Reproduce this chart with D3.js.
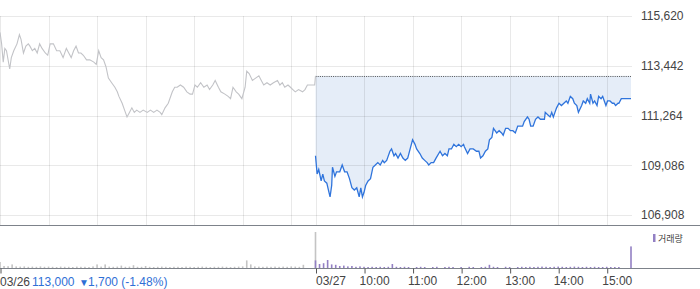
<!DOCTYPE html>
<html>
<head>
<meta charset="utf-8">
<script src="https://cdn.jsdelivr.net/npm/d3@7"></script>
<style>
  body { margin: 0; background: #fff; }
  text { font-family: "Liberation Sans", Arial, "Noto Sans CJK KR", sans-serif; }
</style>
</head>
<body>
<svg id="chart" width="700" height="289"></svg>
<script>
// 03/26 (previous day) intraday prices
const d1Time = ["09:00","09:02","09:04","09:06","09:08","09:12","09:14","09:17","09:21","09:24","09:26","09:29","09:32","09:35","09:37","09:40","09:43","09:46","09:49","09:52","09:56","09:59",
  "10:02","10:06","10:10","10:14","10:18","10:22","10:25","10:28","10:31","10:34","10:37","10:40","10:43","10:47","10:51","10:56","10:59",
  "11:02","11:05","11:08","11:11","11:14","11:18","11:22","11:25","11:27","11:31","11:34","11:37","11:40","11:43","11:46","11:49","11:53","11:57",
  "12:02","12:06","12:10","12:14","12:18","12:20","12:24","12:28","12:33","12:36","12:39","12:43","12:47","12:51","12:55","12:58",
  "13:01","13:04","13:08","13:12","13:16","13:19","13:23","13:26","13:30","13:33","13:38","13:42","13:45","13:48","13:52","13:55","13:59",
  "14:03","14:05","14:08","14:12","14:16","14:20","14:23","14:26","14:30","14:34","14:38","14:43","14:46","14:49","14:52","14:56","14:59",
  "15:02","15:05","15:09","15:14","15:17","15:20","15:29","15:30"];
const d1Price = [114900,114400,113600,114200,114100,113300,113800,114100,114400,114800,114600,114000,114300,114400,114300,114100,114200,114000,114400,114200,114000,113900,
  114400,114400,114100,114100,113800,114200,114000,113800,114100,114300,114000,114000,113900,113700,113700,113600,113500,
  114100,113800,113700,113400,112900,112700,112500,112300,112100,111800,111500,111200,111400,111600,111400,111500,111400,111500,
  111400,111500,111400,111500,111400,111300,111600,111800,112300,112500,112500,112600,112500,112300,112200,112200,
  112600,112500,112700,112500,112600,112400,112600,112800,112500,112300,112200,112100,112000,112500,112300,112200,112000,
  112500,113200,113100,112800,112900,113000,112800,112600,112700,112600,112700,112800,112600,112700,112500,112600,112500,
  112400,112300,112400,112300,112400,112600,112600,113000];

// 03/27 (today) intraday prices
const d2Time = ["09:00","09:02","09:04","09:07","09:09","09:11","09:14","09:16","09:18","09:20","09:21","09:24","09:26","09:30","09:33","09:36","09:39","09:42","09:45","09:48","09:51","09:54","09:56","09:58",
  "10:00","10:02","10:05","10:08","10:11","10:14","10:17","10:20","10:23","10:25","10:28","10:32","10:34","10:37","10:39","10:42","10:45","10:48","10:51","10:54","10:57",
  "11:00","11:03","11:05","11:09","11:12","11:15","11:18","11:20","11:23","11:26","11:29","11:34","11:37","11:40","11:43","11:45","11:48","11:51","11:54","11:57",
  "12:00","12:03","12:04","12:08","12:11","12:15","12:19","12:22","12:24","12:27","12:30","12:33","12:35","12:38","12:40","12:44","12:47","12:50","12:52","12:55","12:58",
  "13:01","13:04","13:07","13:10","13:13","13:16","13:18","13:22","13:24","13:26","13:29","13:32","13:35","13:38","13:40","13:43","13:44","13:47","13:50","13:52","13:54","13:56","13:58",
  "14:01","14:04","14:07","14:10","14:12","14:15","14:18","14:20","14:23","14:25","14:29","14:31","14:34","14:36","14:39","14:40","14:43","14:45","14:48","14:50","14:53","14:55","14:57","14:59",
  "15:01","15:04","15:07","15:09","15:11","15:14","15:15","15:18","15:30"];
const d2Price = [109500,108700,108900,108400,108700,108400,108300,108000,107700,108200,109000,108600,108800,108800,109100,108800,108800,108500,108100,108000,108100,107700,108100,107700,
  107900,108200,108400,108500,109000,109100,109200,109100,109300,109200,109300,109700,109800,109500,109600,109400,109600,109400,109300,109400,109800,
  110200,110000,109800,109600,109400,109300,109200,109100,109200,109200,109400,109700,109500,109600,109500,109800,109800,110000,109900,110000,
  109900,110000,109900,109600,109800,109800,109700,109700,109400,109500,109700,109800,110200,110300,110700,110500,110600,110500,110400,110700,110700,
  110600,110600,110500,110800,110800,110800,111000,111200,111100,110800,110800,111100,111200,111100,111100,111100,111400,111300,111200,111400,111200,111400,111600,
  111800,111700,111800,111900,111800,112100,112000,111800,111700,111400,111700,111900,111800,112000,111800,112200,111800,111900,111700,112100,112000,112100,111900,111700,
  111900,111900,111800,111800,111700,111800,111800,112000,112000];

const prevClose = 113000;
const yTicks = [106908, 109086, 111264, 113442, 115620];

// volume per 5 minutes, 09:00 .. 15:25, last value is the 15:30 close
const d1Vol = [15000,5000,4500,9000,4000,3500,4000,3000,3500,3000,4000,3000,3500,3000,2500,3500,3000,3000,2500,3500,3000,3000,2500,4000,9000,3500,9000,3500,3000,3500,
  6000,3000,3500,7000,3000,3000,5000,3000,2500,3000,3500,3000,2500,3000,3000,2500,3500,3000,2500,3000,3500,3000,2500,3000,3000,3500,3000,2500,3000,3500,
  4000,19000,9000,4000,3500,3000,3500,3000,3500,3000,3500,3000,4000,3500,3000,8000,0,0,90000];
const d2Vol = [19000,10000,12000,20000,9000,8000,5000,6000,4000,5000,3000,4000,3000,2500,3000,2500,3000,2500,3000,10000,3000,2500,3000,2500,0,2500,3000,2500,0,2500,
  3000,0,2500,3000,2500,0,2500,0,3000,2500,0,2500,3000,8000,3000,2500,0,3000,2500,0,2500,3000,2500,3000,2500,3000,3500,3000,2500,3000,
  3500,3000,2500,3000,3500,3000,2500,3000,2500,3000,2500,2500,3000,2500,2500,2500,0,0,54000];

const dayLabels = ["03/26", "03/27"];
const hourLabels = ["10:00", "11:00", "12:00", "13:00", "14:00", "15:00"];

// minutes counted from 03/26 09:00, each session is 390 minutes
function toMin(day, t) {
  const p = t.split(":");
  return day * 390 + (+p[0] - 9) * 60 + (+p[1]);
}

const day1 = d1Time.map((t, i) => ({ m: toMin(0, t), p: d1Price[i] }));
const day2 = d2Time.map((t, i) => ({ m: toMin(1, t), p: d2Price[i] }));
const vol1 = d1Vol.map((v, i) => ({ m: i * 5, v: v }));
const vol2 = d2Vol.map((v, i) => ({ m: 390 + i * 5, v: v }));

const svg = d3.select("#chart");

const x = d3.scaleLinear().domain([0, 780]).range([0, 631]);
const y = d3.scaleLinear().domain([106908, 115620]).range([215, 16]);
const yVol = d3.scaleLinear().domain([0, 90000]).range([268, 232]);

const crisp = v => Math.round(v) + 0.5;

// fill between previous close and today's line
svg.append("path")
  .datum(day2)
  .attr("fill", "#e5edf8")
  .attr("d", d3.area().x(d => x(d.m)).y0(y(prevClose)).y1(d => y(d.p)));

// grid
const gridMin = [0, 60, 120, 180, 240, 300, 360, 390, 450, 510, 570, 630, 690, 750];
svg.append("g").selectAll("line")
  .data(gridMin).enter().append("line")
  .attr("x1", d => crisp(x(d))).attr("x2", d => crisp(x(d)))
  .attr("y1", 16).attr("y2", 225)
  .attr("stroke", "rgba(0,0,0,0.085)");
svg.append("g").selectAll("line")
  .data(yTicks).enter().append("line")
  .attr("x1", 0).attr("x2", 632)
  .attr("y1", d => crisp(y(d))).attr("y2", d => crisp(y(d)))
  .attr("stroke", "rgba(0,0,0,0.085)");

// previous close dotted line
svg.append("line")
  .attr("x1", x(390)).attr("x2", 631)
  .attr("y1", crisp(y(prevClose))).attr("y2", crisp(y(prevClose)))
  .attr("stroke", "#555").attr("stroke-dasharray", "1,1.2");

const line = d3.line().x(d => x(d.m)).y(d => y(d.p));

svg.append("path").datum(day1)
  .attr("fill", "none").attr("stroke", "#c2c3c7").attr("stroke-width", 1.1)
  .attr("d", line);

svg.append("path").datum(day2)
  .attr("fill", "none").attr("stroke", "#2f74dc").attr("stroke-width", 1.3)
  .attr("d", line);

// right price axis
const yAxis = svg.append("g")
  .attr("transform", "translate(631,0)")
  .call(d3.axisRight(y).tickValues(yTicks).tickSize(0).tickPadding(10).tickFormat(d3.format(",")));
yAxis.select(".domain").remove();
yAxis.selectAll("text").attr("font-size", 12).attr("fill", "#444").attr("font-family", null);

// panel separators
svg.append("line").attr("x1", 0).attr("x2", 700).attr("y1", 225.5).attr("y2", 225.5)
  .attr("stroke", "#7d828a").attr("stroke-width", 1.2);

// volume bars
svg.append("g").selectAll("rect")
  .data(vol1).enter().append("rect")
  .attr("x", d => x(d.m) - 0.8).attr("width", 1.6)
  .attr("y", d => yVol(d.v)).attr("height", d => 268 - yVol(d.v))
  .attr("fill", "#c4c4c4");
svg.append("g").selectAll("rect")
  .data(vol2).enter().append("rect")
  .attr("x", d => x(d.m) - 0.8).attr("width", 1.6)
  .attr("y", d => yVol(d.v)).attr("height", d => 268 - yVol(d.v))
  .attr("fill", "#9380c4");

svg.append("line").attr("x1", 0).attr("x2", 700).attr("y1", 268.5).attr("y2", 268.5)
  .attr("stroke", "#7d828a").attr("stroke-width", 1.2);

// legend
svg.append("rect").attr("x", 653).attr("y", 234).attr("width", 2.5).attr("height", 8).attr("fill", "#9380c4");
svg.append("text").attr("x", 658).attr("y", 241.5)
  .attr("font-size", 9).attr("fill", "#444").attr("font-family", "Noto Sans CJK KR")
  .text("거래량");

// time axis
const tickMins = [0, 390, 450, 510, 570, 630, 690, 750];
const tickText = ["", dayLabels[1]].concat(hourLabels);
const xAxis = svg.append("g")
  .attr("transform", "translate(0,268.5)")
  .call(d3.axisBottom(x).tickValues(tickMins).tickSize(5).tickPadding(3)
    .tickFormat((d, i) => tickText[i]));
xAxis.select(".domain").remove();
xAxis.selectAll("line").attr("stroke", "#555").attr("x1", 0.5).attr("x2", 0.5);
xAxis.selectAll("text")
  .attr("font-size", 12).attr("fill", "#444").attr("font-family", null)
  .attr("text-anchor", "start")
  .attr("x", (d, i) => i < 2 ? 0 : -5);

// previous day summary
const info = svg.append("text").attr("y", 286).attr("font-size", 12);
info.append("tspan").attr("x", 0).attr("fill", "#444").text(dayLabels[0]);
info.append("tspan").attr("x", 32).attr("fill", "#2f6fd6").text(d3.format(",")(prevClose));
info.append("tspan").attr("x", 79).attr("fill", "#2f6fd6").attr("font-size", 10).text("▼");
info.append("tspan").attr("x", 88).attr("fill", "#2f6fd6").text("1,700 (-1.48%)");
</script>
</body>
</html>
